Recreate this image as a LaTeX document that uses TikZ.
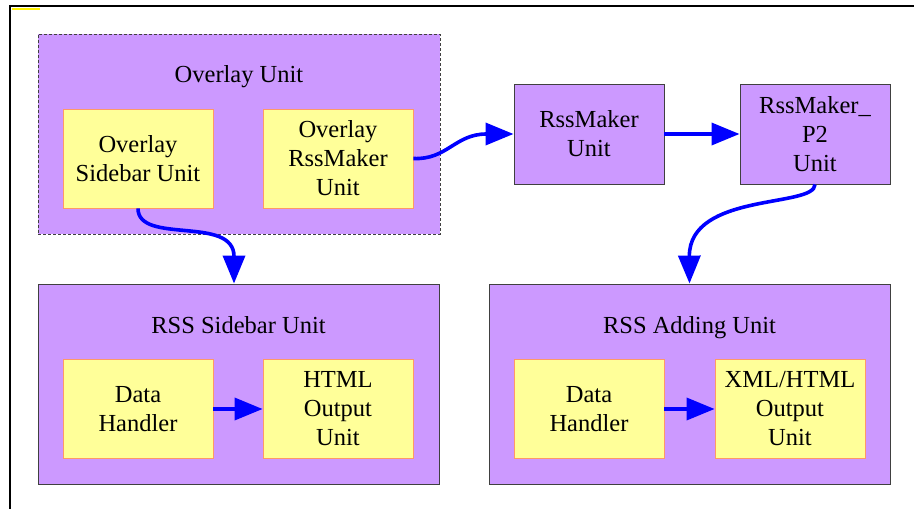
\documentclass[tikz,border=0pt]{standalone}
\usepackage{fontspec}
\setmainfont{Liberation Serif}
\usetikzlibrary{arrows.meta}
\definecolor{unitpurple}{HTML}{CC99FF}
\definecolor{partyellow}{HTML}{FFFF99}
\definecolor{partedge}{HTML}{FF9966}
\definecolor{unitedge}{HTML}{404040}
\definecolor{flowblue}{HTML}{0000FF}
\tikzset{
  unitbox/.style={draw=unitedge, line width=0.9pt, fill=unitpurple, inner sep=0pt},
  partbox/.style={draw=partedge, line width=0.8pt, fill=partyellow, inner sep=0pt,
    minimum width=150pt, minimum height=99pt},
  boxtext/.style={align=center, inner sep=0pt, font=\rmfamily\fontsize{24.5}{29}\selectfont},
  titletext/.style={boxtext, anchor=base},
  flow/.style={draw=flowblue, line width=3.6pt,
    -{Triangle[length=28pt,width=22pt]}}
}
\begin{document}
\begin{tikzpicture}[x=1pt,y=-1pt]
\useasboundingbox (0,0) rectangle (914,509);
% outer frame
\draw[line width=2pt] (10,509) -- (10,6) -- (914,6);
\draw[yellow, line width=1.2pt] (12,9) -- (40,9);

% Overlay Unit group
\node[unitbox, dashed, dash pattern=on 3pt off 2pt, minimum width=402pt, minimum height=200pt]
  (overlay) at (239,134) {};
\node[titletext] (overlaytitle) at (239,82) {Overlay Unit};
\node[partbox, boxtext] (osb) at (138,158.5) {Overlay\\Sidebar Unit};
\node[partbox, boxtext] (orm) at (338,158.5) {Overlay\\RssMaker\\Unit};

% RssMaker units
\node[unitbox, boxtext, minimum width=150pt, minimum height=100pt] (rm) at (589,134) {RssMaker\\Unit};
\node[unitbox, boxtext, minimum width=150pt, minimum height=100pt] (rm2) at (815,134) {RssMaker\_\\P2\\Unit};

% RSS Sidebar Unit group
\node[unitbox, minimum width=401pt, minimum height=200pt] (sidebar) at (238.5,384) {};
\node[titletext] (sidebartitle) at (238.5,333) {RSS Sidebar Unit};
\node[partbox, boxtext] (dh1) at (138,409) {Data\\Handler};
\node[partbox, boxtext] (html) at (338,409) {HTML\\Output\\Unit};

% RSS Adding Unit group
\node[unitbox, minimum width=401pt, minimum height=200pt] (adding) at (689.5,384) {};
\node[titletext] (addingtitle) at (689.5,333) {RSS Adding Unit};
\node[partbox, boxtext] (dh2) at (589,409) {Data\\Handler};
\node[partbox, boxtext] (xml) at (790,409) {XML/HTML\\Output\\Unit};

% connectors
\draw[flow] (osb.south) .. controls (138,245) and (234,215) .. (sidebar.north -| 234,0);
\draw[flow] (orm.east) .. controls (447,160) and (455,134) .. (rm.west);
\draw[flow] (rm.east) -- (rm2.west);
\draw[flow] (rm2.south) .. controls (815,208) and (689,192) .. (adding.north);
\draw[flow] (dh1.east) -- (html.west);
\draw[flow] (dh2.east) -- (xml.west);
\end{tikzpicture}
\end{document}
